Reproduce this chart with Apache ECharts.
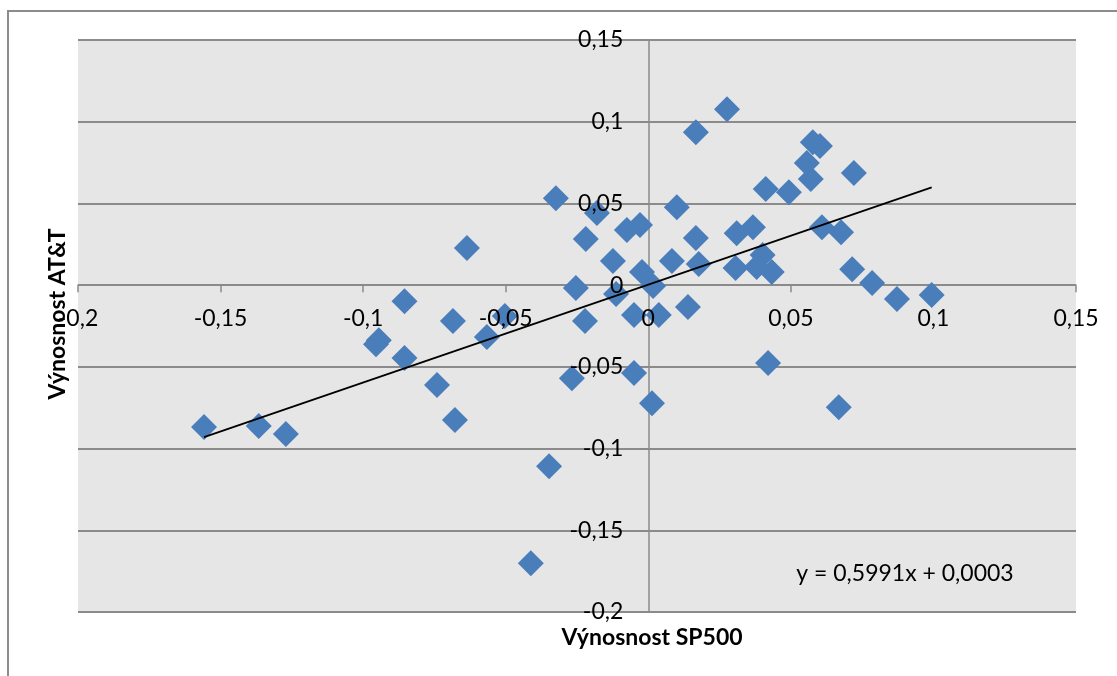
<!DOCTYPE html>
<html>
<head>
<meta charset="utf-8">
<title>Výnosnost SP500 vs AT&amp;T</title>
<script src="https://cdn.jsdelivr.net/npm/echarts@6/dist/echarts.min.js"></script>
<style>
  html, body { margin: 0; padding: 0; background: #ffffff; }
  #chart { width: 1117px; height: 676px; }
</style>
</head>
<body>
<div id="chart"></div>
<script>
// Monthly returns: S&P 500 (x) against AT&T (y)
const spReturns = [
  -0.1558, -0.1366, -0.1271, -0.0955, -0.0945, -0.0855, -0.0855, -0.0685, -0.0741, -0.0678,
  -0.0566, -0.0636, -0.0503, -0.0324, -0.0180, -0.0219, -0.0075, -0.0029, -0.0124, -0.0022,
   0.0017,  0.0083, -0.0254, -0.0113, -0.0222, -0.0050,  0.0037,  0.0100, -0.0268, -0.0050,
   0.0013, -0.0348, -0.0412,  0.0276,  0.0167,  0.0577,  0.0602,  0.0556,  0.0570,  0.0721,
   0.0412,  0.0493,  0.0167,  0.0177,  0.0310,  0.0367,  0.0306,  0.0401,  0.0380,  0.0433,
   0.0609,  0.0676,  0.0715,  0.0785,  0.0139,  0.0872,  0.0994,  0.0420,  0.0668
];
const attReturns = [
  -0.0868, -0.0862, -0.0911, -0.0361, -0.0337, -0.0099, -0.0446, -0.0220, -0.0611, -0.0825,
  -0.0318,  0.0227, -0.0189,  0.0532,  0.0441,  0.0282,  0.0337,  0.0368,  0.0147,  0.0080,
  -0.0006,  0.0147, -0.0018, -0.0054, -0.0219, -0.0182, -0.0182,  0.0477, -0.0569, -0.0538,
  -0.0722, -0.1108, -0.1701,  0.1077,  0.0936,  0.0875,  0.0851,  0.0747,  0.0649,  0.0686,
   0.0588,  0.0569,  0.0288,  0.0129,  0.0318,  0.0355,  0.0105,  0.0184,  0.0111,  0.0080,
   0.0355,  0.0324,  0.0098,  0.0013, -0.0134, -0.0085, -0.0061, -0.0477, -0.0747
];

// Linear trend: y = slope * x + intercept
const trendSlope = 0.5991;
const trendIntercept = 0.0003;

// Axis ranges and tick step
const xMin = -0.2, xMax = 0.15;
const yMin = -0.2, yMax = 0.15;
const tickStep = 0.05;

const xTitle = 'Výnosnost SP500';
const yTitle = 'Výnosnost AT&T';

const fmt = v => String(+v.toFixed(4)).replace('.', ',');

const points = spReturns.map((x, i) => [x, attReturns[i]]);
const xLo = Math.min(...spReturns), xHi = Math.max(...spReturns);
const trendLine = [xLo, xHi].map(x => [x, trendSlope * x + trendIntercept]);
const equationText = 'y = ' + fmt(trendSlope) + 'x + ' + fmt(trendIntercept);

const FONT = 'Lato, "Open Sans", sans-serif';
const GRID_COLOR = '#8b8b8b';

// Plot rectangle
const GRID = { left: 78, top: 40, width: 998, height: 572 };
// Both axes cross at zero: shift each axis (with its ticks and labels) to the other's zero
const xAxisShift = -GRID.height * (0 - yMin) / (yMax - yMin);
const yAxisShift = -GRID.width * (0 - xMin) / (xMax - xMin);

const labelStyle = (margin) => ({
  show: true, margin, color: '#000', fontSize: 23, fontFamily: FONT,
  showMinLabel: true, showMaxLabel: true, hideOverlap: false,
  formatter: fmt
});

// Lines, ticks and grid sit beneath the markers; tick labels are drawn on top of them
const makeAxes = (pos, offset, withGrid, margin) => [
  {
    type: 'value', position: pos, offset,
    min: pos === 'bottom' ? xMin : yMin,
    max: pos === 'bottom' ? xMax : yMax,
    interval: tickStep,
    z: 0,
    axisLine: { show: true, onZero: false, lineStyle: { color: GRID_COLOR, width: 1.5 } },
    axisTick: { show: true, inside: false, length: 7, lineStyle: { color: GRID_COLOR, width: 1.5 } },
    axisLabel: { show: false },
    splitLine: withGrid
      ? { show: true, lineStyle: { color: GRID_COLOR, width: 1.8 } }
      : { show: false }
  },
  {
    type: 'value', position: pos, offset,
    min: pos === 'bottom' ? xMin : yMin,
    max: pos === 'bottom' ? xMax : yMax,
    interval: tickStep,
    z: 20,
    axisLine: { show: false, onZero: false },
    axisTick: { show: false },
    axisLabel: labelStyle(margin),
    splitLine: { show: false }
  }
];

const chart = echarts.init(document.getElementById('chart'), null, { renderer: 'canvas' });

chart.setOption({
  animation: false,
  backgroundColor: '#ffffff',
  textStyle: { fontFamily: FONT },
  grid: {
    left: GRID.left, top: GRID.top, width: GRID.width, height: GRID.height,
    containLabel: false,
    outerBoundsMode: 'none',
    show: true,
    backgroundColor: '#e6e6e6',
    borderWidth: 0
  },
  xAxis: makeAxes('bottom', xAxisShift, false, 22),
  yAxis: makeAxes('left', yAxisShift, true, 25),
  series: [
    {
      name: 'AT&T',
      type: 'scatter',
      xAxisIndex: 0, yAxisIndex: 0,
      data: points,
      symbol: 'diamond',
      symbolSize: 26,
      itemStyle: { color: '#4a7ebb', opacity: 1 },
      z: 3
    },
    {
      name: 'Trend',
      type: 'line',
      xAxisIndex: 0, yAxisIndex: 0,
      data: trendLine,
      showSymbol: false,
      symbol: 'none',
      lineStyle: { color: '#000000', width: 1.8 },
      z: 4
    }
  ],
  graphic: [
    {
      type: 'rect',
      shape: { x: 8, y: 11, width: 1300, height: 900 },
      style: { fill: 'none', stroke: '#8c8c8c', lineWidth: 2 },
      silent: true, z: 10
    },
    {
      type: 'text',
      x: 58, y: 314,
      rotation: Math.PI / 2,
      style: {
        text: yTitle, fill: '#000', font: 'bold 23px ' + FONT,
        textAlign: 'center', textVerticalAlign: 'middle'
      },
      z: 30
    },
    {
      type: 'text',
      x: 652, y: 638,
      style: {
        text: xTitle, fill: '#000', font: 'bold 23px ' + FONT,
        textAlign: 'center', textVerticalAlign: 'middle'
      },
      z: 30
    },
    {
      type: 'text',
      x: 905, y: 574,
      style: {
        text: equationText, fill: '#000', font: '23px ' + FONT,
        textAlign: 'center', textVerticalAlign: 'middle'
      },
      z: 30
    }
  ]
});
</script>
</body>
</html>
